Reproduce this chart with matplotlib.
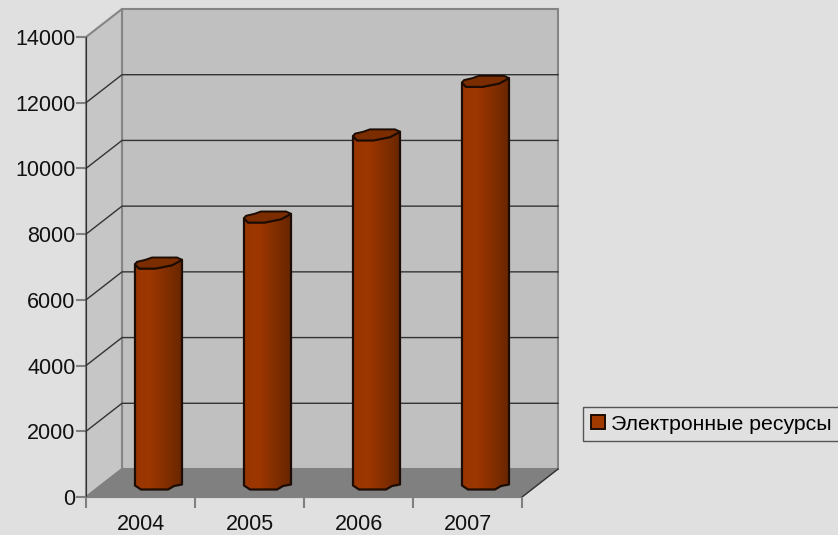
import numpy as np
import matplotlib
matplotlib.use('Agg')
import matplotlib.pyplot as plt
from matplotlib.patches import Polygon, Patch

years = ['2004', '2005', '2006', '2007']
values = [6680, 8080, 10580, 12210]
y_ticks = [0, 2000, 4000, 6000, 8000, 10000, 12000, 14000]
series_name = 'Электронные ресурсы'

W, H = 838, 535
plt.rcParams['font.family'] = ['Liberation Sans', 'DejaVu Sans']

fig = plt.figure(figsize=(W / 100, H / 100), dpi=100, facecolor='#e0e0e0')
# front plane of the fake 3d box, measured in pixels
ax = fig.add_axes([86 / W, 1 - 497 / H, (522 - 86) / W, (497 - 37) / H])
ax.patch.set_visible(False)

# px -> data units
sx = len(years) / (522 - 86)
sy = 14000 / (497 - 37)
dx = 36 * sx
dy = 28 * sy
xmax = len(years)
ymax = y_ticks[-1]

# walls and floor
ax.add_patch(Polygon([(dx, dy), (xmax + dx, dy), (xmax + dx, ymax + dy), (dx, ymax + dy)],
                     fc='#c0c0c0', ec='#858585', lw=1.5, clip_on=False, zorder=1))
ax.add_patch(Polygon([(0, 0), (dx, dy), (dx, ymax + dy), (0, ymax)],
                     fc='#c6c6c6', ec='#858585', lw=1.5, clip_on=False, zorder=1))
ax.add_patch(Polygon([(0, 0), (xmax, 0), (xmax + dx, dy), (dx, dy)],
                     fc='#808080', ec='#808080', lw=1, clip_on=False, zorder=2))
ax.plot([xmax, xmax + dx], [0, dy], color='#333333', lw=1, clip_on=False, zorder=3)

# grid lines go along the side wall then the back wall
for t in y_ticks[1:-1]:
    ax.plot([0, dx, xmax + dx], [t, t + dy, t + dy], color='#333333', lw=1,
            clip_on=False, zorder=2)

# cylinder outline, offsets in px from the centre of the top / base
top_front = [(-23.5, -0.7), (-19.5, -5), (-3, -5), (13.5, -1.7), (23.5, 3.7)]
top_back = [(18.5, 6), (-6.5, 6), (-13, 3.7), (-21.5, 1.7)]
base = [(23.5, -1.5), (15.5, -3), (9.5, -6.5), (-17.5, -6.5), (-23.5, -2.5)]

c1 = np.array([0x9e, 0x37, 0x00]) / 255
c2 = np.array([0x68, 0x26, 0x00]) / 255
colors = np.interp(np.linspace(0, 1, 64), [0, 0.3, 1], [0.1, 0, 1])
img = np.array([[c1 + (c2 - c1) * c for c in colors]])

for i, v in enumerate(values):
    cx = i + 0.5 + dx / 2
    by = dy / 2
    ty = v + dy / 2
    body = [(cx + a * sx, ty + b * sy) for a, b in top_front] + \
           [(cx + a * sx, by + b * sy) for a, b in base]
    poly = Polygon(body, fc='none', ec='#1c0c04', lw=1.6, joinstyle='round',
                   clip_on=False, zorder=6)
    ax.add_patch(poly)
    im = ax.imshow(img, extent=(cx - 23.5 * sx, cx + 23.5 * sx, 0, ty + 6 * sy),
                   aspect='auto', zorder=5, clip_on=True)
    im.set_clip_path(Polygon(body, transform=ax.transData))
    lid = [(cx + a * sx, ty + b * sy) for a, b in top_front + top_back]
    ax.add_patch(Polygon(lid, fc='#7c2d00', ec='#1c0c04', lw=1.4, joinstyle='round',
                         clip_on=False, zorder=7))

ax.set_xlim(0, xmax)
ax.set_ylim(0, ymax)

for s in ['top', 'right']:
    ax.spines[s].set_visible(False)
ax.spines['left'].set_color('#333333')
ax.spines['left'].set_zorder(4)
ax.spines['bottom'].set_color('#808080')
ax.spines['bottom'].set_zorder(4)

ax.set_yticks(y_ticks)
ax.tick_params(axis='y', length=7, width=1.5, color='#808080', labelsize=15.5,
               pad=0.5, labelcolor='#111111')
ax.set_xticks(np.arange(xmax + 1))
ax.set_xticklabels([])
ax.tick_params(axis='x', which='major', length=8, width=1.5, color='#808080')
ax.set_xticks(np.arange(xmax) + 0.5, labels=years, minor=True)
ax.tick_params(axis='x', which='minor', length=0, labelsize=15.5, pad=12,
               labelcolor='#111111')

leg = fig.legend(handles=[Patch(fc='#a03a00', ec='#1c0c04', lw=1.4, label=series_name)],
                 loc='center left', bbox_to_anchor=(583 / W, 1 - 424 / H),
                 borderaxespad=0, fontsize=15.3, fancybox=False, framealpha=1,
                 facecolor='#e0e0e0', edgecolor='#555555',
                 handlelength=0.65, handleheight=0.65, handletextpad=0.28,
                 borderpad=0.37)

fig.savefig('out.png', dpi=100, facecolor=fig.get_facecolor())
